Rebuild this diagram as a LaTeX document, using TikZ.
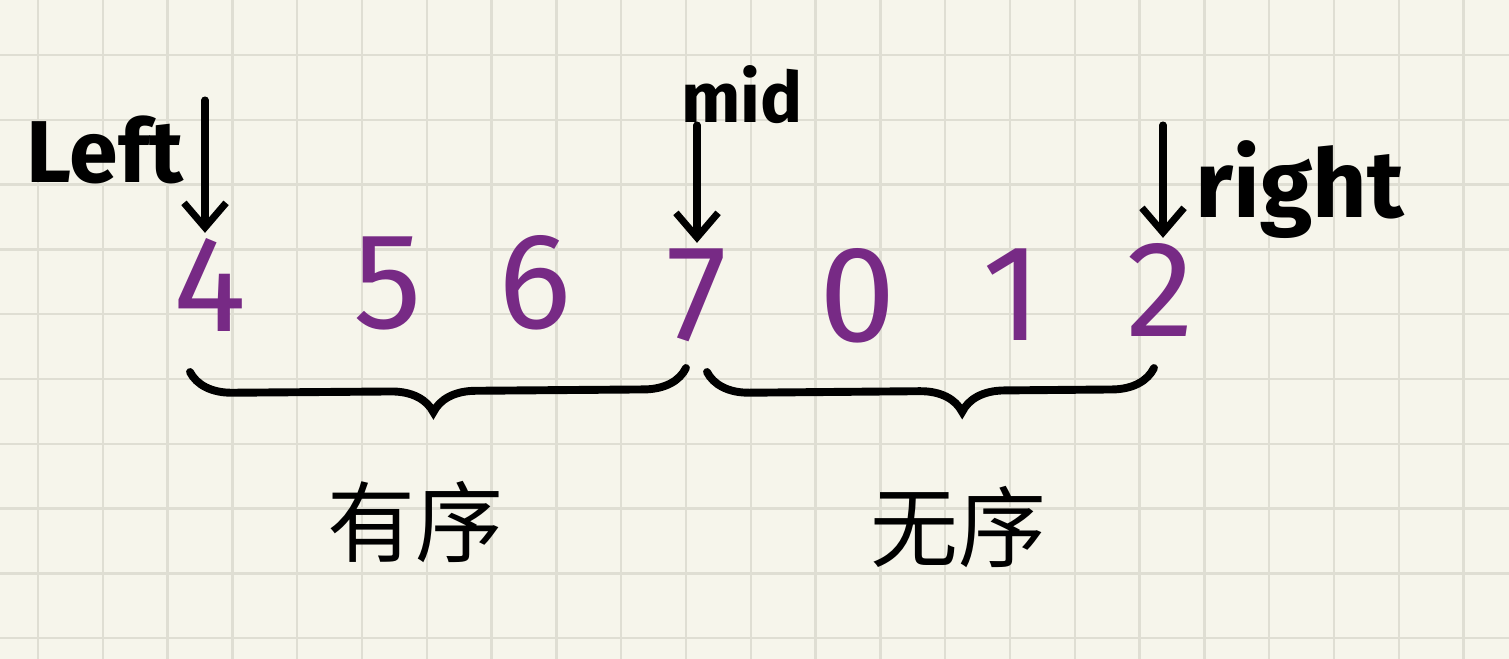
\documentclass[tikz,border=0pt]{standalone}
\usepackage{fontspec}
\setmainfont{Fira Sans}
\newfontfamily\cjk{Noto Sans CJK SC}
\usetikzlibrary{arrows.meta,decorations.pathreplacing}
\definecolor{papel}{HTML}{F6F5EB}
\definecolor{rejilla}{HTML}{DFDED3}
\definecolor{morado}{HTML}{772A85}
\tikzset{
  num/.style={text=morado, inner sep=0pt, font=\fontsize{78}{78}\selectfont},
  etiq/.style={inner sep=0pt},
  ptr/.style={line width=4pt, line cap=round, shorten >=3pt,
    -{Straight Barb[length=14pt,width=24pt]}},
  llave/.style={line width=4.5pt, line cap=round, decorate,
    decoration={brace,mirror,amplitude=24pt}}
}
\begin{document}
\begin{tikzpicture}[x=0.02cm,y=-0.02cm]
    % Papel cuadriculado
    \fill[papel] (0,0) rectangle (1509,659);
    \useasboundingbox (0,0) rectangle (1509,659);
    \foreach \i in {0,...,22}
        \draw[rejilla, line width=1.3pt] ({38+64.8*\i},0) -- ++(0,659);
    \foreach \j in {0,...,9}
        \draw[rejilla, line width=1.3pt] (0,{55+64.8*\j}) -- ++(1509,0);

    % Números
    \node[num] (n4) at (210,285) {4};
    \node[num] (n5) at (388,283) {5};
    \node[num] (n6) at (535,283) {6};
    \node[num] (n7) at (697,295) {7};
    \node[num] (n0) at (858,296) {0};
    \node[num] (n1) at (1012,295) {1};
    \node[num] (n2) at (1160,290) {2};

    % Punteros
    \node[etiq, font=\bfseries\fontsize{50}{50}\selectfont] (left) at (105,150) {Left};
    \node[etiq, font=\bfseries\fontsize{40}{40}\selectfont] (mid) at (742,95) {mid};
    \node[etiq, font=\bfseries\fontsize{54}{54}\selectfont] (right) at (1300,190) {right};
    \coordinate (pL) at (205,100);
    \coordinate (pM) at (697,125);
    \coordinate (pR) at (1163,125);
    \draw[ptr] (pL) -- (pL |- n4.north);
    \draw[ptr] (pM) -- (pM |- n7.north);
    \draw[ptr] (pR) -- (pR |- n2.north);

    % Llaves
    \coordinate (a1) at (190,372);
    \coordinate (a2) at (686,368);
    \coordinate (b1) at (707,372);
    \coordinate (b2) at (1154,368);
    \draw[llave, decoration={aspect=0.49}] (a1) -- (a2);
    \draw[llave, decoration={aspect=0.57}] (b1) -- (b2);

    % Etiquetas
    \node[etiq, font=\cjk\fontsize{50}{50}\selectfont] (orden) at (415,522) {有序};
    \node[etiq, font=\cjk\fontsize{50}{50}\selectfont] (desorden) at (958,527) {无序};
\end{tikzpicture}
\end{document}
